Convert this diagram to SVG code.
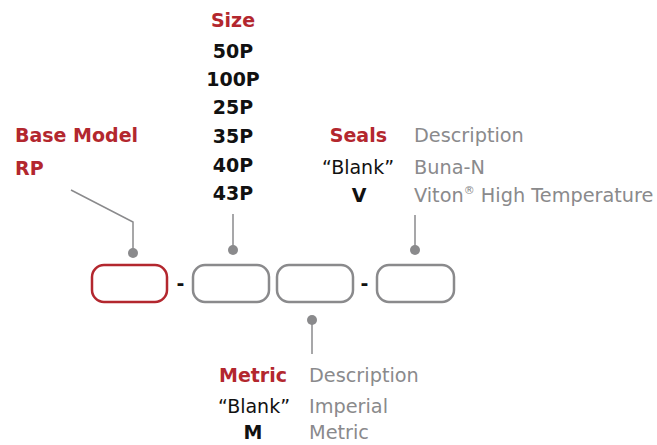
<svg xmlns="http://www.w3.org/2000/svg" width="657" height="445" viewBox="0 0 657 445">
<style>
.t{font-family:"DejaVu Sans",sans-serif;font-size:19px}
.g{font-size:19.3px}
.b{font-weight:bold}
.red{fill:#b3272e}
.blk{fill:#111}
.gry{fill:#8a8a8c}
.box{fill:#fff;stroke:#8a8a8c;stroke-width:2.5}
.line{fill:none;stroke:#8a8a8c;stroke-width:1.5}
.dot{fill:#8a8a8c}
</style>
<rect width="657" height="445" fill="#fff"/>
<g id="box-base"><rect x="92" y="265" width="75" height="37" rx="12" class="box" style="stroke:#b3272e"/></g>
<g id="dash1"><text x="180.5" y="290" text-anchor="middle" class="t b blk">-</text></g>
<g id="box-size"><rect x="193" y="265" width="76" height="37" rx="12" class="box"/></g>
<g id="box-metric"><rect x="277" y="265" width="76" height="37" rx="12" class="box"/></g>
<g id="dash2"><text x="364.5" y="290" text-anchor="middle" class="t b blk">-</text></g>
<g id="box-seals"><rect x="377" y="265" width="77" height="37" rx="12" class="box"/></g>
<g id="connectors">
<polyline points="71,190 133,222 133,253" class="line"/>
<circle cx="133" cy="253" r="5" class="dot"/>
<line x1="233" y1="214" x2="233" y2="250" class="line"/>
<circle cx="233" cy="250" r="5" class="dot"/>
<line x1="415" y1="215" x2="415" y2="250" class="line"/>
<circle cx="415" cy="250" r="5" class="dot"/>
<line x1="312" y1="320" x2="312" y2="354" class="line"/>
<circle cx="312" cy="320" r="5" class="dot"/>
</g>
<g id="base-model">
<text x="15" y="142" class="t b red">Base Model</text>
<text x="15" y="175" class="t b red">RP</text>
</g>
<g id="size" text-anchor="middle">
<text x="233" y="27" class="t b red">Size</text>
<text x="233" y="58" class="t b blk">50P</text>
<text x="233" y="86" class="t b blk">100P</text>
<text x="233" y="114" class="t b blk">25P</text>
<text x="233" y="143" class="t b blk">35P</text>
<text x="233" y="172" class="t b blk">40P</text>
<text x="233" y="200" class="t b blk">43P</text>
</g>
<g id="seals">
<text x="387" y="142" text-anchor="end" class="t b red">Seals</text>
<text x="414" y="142" class="t g gry">Description</text>
<text x="394" y="174" text-anchor="end" class="t blk">“Blank”</text>
<text x="414" y="174" class="t g gry">Buna-N</text>
<text x="359" y="202" text-anchor="middle" class="t b blk">V</text>
<text x="414" y="202" class="t g gry">Viton<tspan font-size="11" dy="-8">®</tspan><tspan dy="8"> High Temperature</tspan></text>
</g>
<g id="metric">
<text x="287" y="382" text-anchor="end" class="t b red">Metric</text>
<text x="309" y="382" class="t g gry">Description</text>
<text x="290" y="413" text-anchor="end" class="t blk">“Blank”</text>
<text x="309" y="413" class="t g gry">Imperial</text>
<text x="253" y="439" text-anchor="middle" class="t b blk">M</text>
<text x="309" y="439" class="t g gry">Metric</text>
</g>
</svg>
